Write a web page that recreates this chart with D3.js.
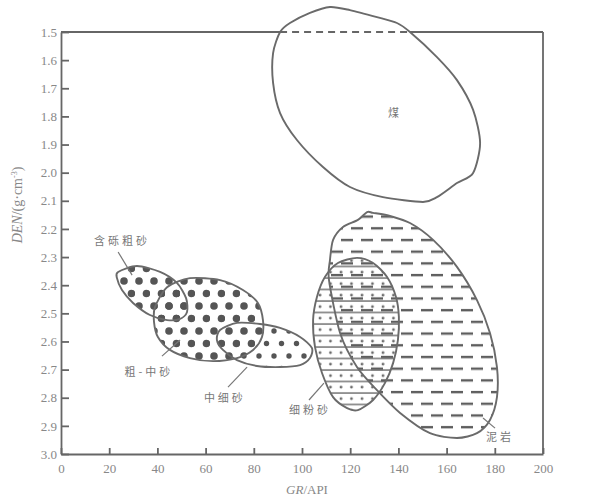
<!DOCTYPE html>
<html>
<head>
<meta charset="utf-8">
<script src="https://cdn.jsdelivr.net/npm/d3@7"></script>
<style>
  body { margin: 0; background: #fff; }
  svg { display: block; }
  .axis path, .axis line { stroke: #666; stroke-width: 1.8; }
  .axis text { font-family: "Liberation Serif", serif; font-size: 13px; fill: #888; }
  .zone { fill: none; stroke: #6a6a6a; stroke-width: 1.9; }
  .lbl { font-family: "Noto Sans CJK SC", sans-serif; font-size: 11px; fill: #777; letter-spacing: 3px; }
  .leader { stroke: #777; stroke-width: 1.2; }
</style>
</head>
<body>
<div id="chart"></div>
<script>
// GR (API) vs DEN (g/cm3) lithology zones, outlines
const xTicks = [0, 20, 40, 60, 80, 100, 120, 140, 160, 180, 200];
const yTicks = [1.5, 1.6, 1.7, 1.8, 1.9, 2.0, 2.1, 2.2, 2.3, 2.4, 2.5, 2.6, 2.7, 2.8, 2.9, 3.0];

const coal = [[111.6,1.411],[103.3,1.432],[95.0,1.468],[90.9,1.5],[88.0,1.575],[88.0,1.681],[90.9,1.788],
  [97.9,1.884],[108.7,1.980],[119.9,2.051],[133.6,2.087],[150.2,2.104],[156.0,2.087],[164.3,2.037],
  [171.0,2.001],[173.9,1.895],[171.0,1.777],[164.3,1.671],[156.0,1.589],[144.8,1.5],[139.4,1.468],
  [131.1,1.447],[119.9,1.422]];
const coalCut = [90.9, 144.8]; // where coal crosses DEN = 1.5

const mudstone = [[127.0,2.140],[123.2,2.168],[117.0,2.193],[112.9,2.239],[111.6,2.311],[111.2,2.382],
  [115.8,2.570],[122.8,2.691],[131.1,2.773],[140.7,2.854],[153.1,2.926],[164.3,2.943],[172.6,2.926],
  [178.0,2.879],[180.9,2.798],[180.9,2.691],[178.0,2.570],[172.6,2.453],[164.3,2.335],[154.4,2.239],
  [144.8,2.179],[135.3,2.151],[129.5,2.143]];

const fineSilt = [[122.8,2.303],[129.5,2.321],[135.3,2.371],[139.0,2.442],[140.2,2.513],[139.8,2.595],
  [137.8,2.677],[134.4,2.748],[129.5,2.808],[123.2,2.844],[118.7,2.837],[112.9,2.798],[108.3,2.712],
  [105.4,2.620],[104.6,2.524],[106.2,2.442],[109.5,2.371],[114.9,2.321]];

const gravelSand = [[23.7,2.353],[31.5,2.332],[41.1,2.353],[48.1,2.392],[51.9,2.446],[52.3,2.495],
  [49.4,2.520],[44.0,2.524],[36.9,2.506],[29.9,2.463],[25.3,2.417],[23.2,2.374]];

const coarseMedSand = [[39.0,2.478],[44.0,2.407],[53.5,2.375],[66.0,2.382],[75.5,2.417],[81.7,2.463],
  [83.8,2.524],[83.4,2.584],[79.7,2.630],[73.0,2.659],[63.1,2.670],[53.5,2.659],[45.2,2.630],
  [40.2,2.584],[38.6,2.531]];

const medFineSand = [[66.0,2.559],[73.0,2.534],[82.6,2.538],[90.9,2.552],[99.2,2.584],[104.1,2.623],
  [103.3,2.659],[99.2,2.684],[90.9,2.691],[81.3,2.687],[73.0,2.666],[67.2,2.630],[64.7,2.595]];

const labels = [
  { text: '含砾粗砂', gr: 25.3, den: 2.243 },
  { text: '粗-中砂', gr: 36.5, den: 2.709 },
  { text: '中细砂', gr: 68.0, den: 2.801 },
  { text: '细粉砂', gr: 103.3, den: 2.844 },
  { text: '泥岩', gr: 182.2, den: 2.940 },
  { text: '煤', gr: 138.6, den: 1.790 }
];
const leaders = [
  [23.7, 2.282, 29.5, 2.364],
  [41.9, 2.652, 49.4, 2.595],
  [69.3, 2.762, 77.2, 2.691],
  [102.9, 2.808, 109.1, 2.748],
  [175.1, 2.872, 180.1, 2.908]
];

const W = 589, H = 502;
const x = d3.scaleLinear().domain([0, 200]).range([61, 543]);
const y = d3.scaleLinear().domain([1.5, 3.0]).range([32, 454]);

const svg = d3.select('#chart').append('svg').attr('width', W).attr('height', H);
const defs = svg.append('defs');

// dot patterns share one grid so overlaps line up
function dotPattern(id, r) {
  const p = defs.append('pattern').attr('id', id).attr('patternUnits', 'userSpaceOnUse')
    .attr('width', 15).attr('height', 25);
  p.append('circle').attr('cx', 4).attr('cy', 6).attr('r', r).attr('fill', '#555');
  p.append('circle').attr('cx', 11.5).attr('cy', 18.5).attr('r', r).attr('fill', '#555');
}
dotPattern('bigDots', 3.8);
dotPattern('smallDots', 2.7);

const mud = defs.append('pattern').attr('id', 'dashes').attr('patternUnits', 'userSpaceOnUse')
  .attr('width', 20).attr('height', 23.4);
mud.append('line').attr('x1', 1).attr('x2', 13).attr('y1', 6).attr('y2', 6)
  .attr('stroke', '#5e5e5e').attr('stroke-width', 2.4);
mud.append('line').attr('x1', 11).attr('x2', 23).attr('y1', 17.7).attr('y2', 17.7)
  .attr('stroke', '#5e5e5e').attr('stroke-width', 2.4);
mud.append('line').attr('x1', -9).attr('x2', 3).attr('y1', 17.7).attr('y2', 17.7)
  .attr('stroke', '#5e5e5e').attr('stroke-width', 2.4);

const silt = defs.append('pattern').attr('id', 'siltLines').attr('patternUnits', 'userSpaceOnUse')
  .attr('width', 10.5).attr('height', 11.5);
silt.append('line').attr('x1', 0).attr('x2', 10.5).attr('y1', 2).attr('y2', 2)
  .attr('stroke', '#5e5e5e').attr('stroke-width', 1.3);
silt.append('circle').attr('cx', 5).attr('cy', 7.7).attr('r', 1.4).attr('fill', '#6a6a6a');

const shape = d3.line().x(d => x(d[0])).y(d => y(d[1])).curve(d3.curveCardinalClosed.tension(0.2));

// fills
svg.append('path').attr('d', shape(mudstone)).attr('fill', 'url(#dashes)');
svg.append('path').attr('d', shape(fineSilt)).attr('fill', 'url(#siltLines)');
svg.append('path').attr('d', shape(medFineSand)).attr('fill', 'url(#smallDots)');
svg.append('path').attr('d', shape(coarseMedSand)).attr('fill', 'url(#bigDots)');
svg.append('path').attr('d', shape(gravelSand)).attr('fill', 'url(#bigDots)');

// outlines
[coal, mudstone, fineSilt, gravelSand, coarseMedSand, medFineSand].forEach(s => {
  svg.append('path').attr('class', 'zone').attr('d', shape(s));
});

// axes
svg.append('g').attr('class', 'axis')
  .attr('transform', `translate(${x(0)},0)`)
  .call(d3.axisLeft(y).tickValues(yTicks).tickFormat(d3.format('.1f')).tickSizeInner(-8).tickSizeOuter(0).tickPadding(4));
svg.append('g').attr('class', 'axis')
  .attr('transform', `translate(0,${y(3.0)})`)
  .call(d3.axisBottom(x).tickValues(xTicks).tickSizeInner(-6).tickSizeOuter(0).tickPadding(10));

// frame: right side and top, top dashed inside the coal zone
const frame = svg.append('g').attr('stroke', '#666').attr('stroke-width', 1.8);
frame.append('line').attr('x1', x(200)).attr('x2', x(200)).attr('y1', y(1.5)).attr('y2', y(3.0));
frame.append('line').attr('x1', x(0)).attr('x2', x(coalCut[0])).attr('y1', y(1.5)).attr('y2', y(1.5));
frame.append('line').attr('x1', x(coalCut[1])).attr('x2', x(200)).attr('y1', y(1.5)).attr('y2', y(1.5));
frame.append('line').attr('x1', x(coalCut[0])).attr('x2', x(coalCut[1])).attr('y1', y(1.5)).attr('y2', y(1.5))
  .attr('stroke-dasharray', '7,5');

// leaders and labels
svg.selectAll('.leader').data(leaders).join('line').attr('class', 'leader')
  .attr('x1', d => x(d[0])).attr('y1', d => y(d[1])).attr('x2', d => x(d[2])).attr('y2', d => y(d[3]));
svg.selectAll('.lbl').data(labels).join('text').attr('class', 'lbl')
  .attr('x', d => x(d.gr)).attr('y', d => y(d.den)).attr('dy', '0.35em')
  .attr('text-anchor', 'middle').text(d => d.text);

// axis titles
svg.append('text').attr('x', 307).attr('y', 494).attr('text-anchor', 'middle')
  .style('font-family', '"Liberation Serif", serif').style('font-size', '13px').style('fill', '#888')
  .call(t => {
    t.append('tspan').style('font-style', 'italic').text('GR');
    t.append('tspan').text('/API');
  });
svg.append('text').attr('transform', 'translate(22,205) rotate(-90)').attr('text-anchor', 'middle')
  .style('font-family', '"Liberation Serif", serif').style('font-size', '14px').style('fill', '#888')
  .call(t => {
    t.append('tspan').style('font-style', 'italic').text('DEN');
    t.append('tspan').text('/(g·cm');
    t.append('tspan').attr('dy', -5).style('font-size', '8px').text('-3');
    t.append('tspan').attr('dy', 5).text(')');
  });
</script>
</body>
</html>
